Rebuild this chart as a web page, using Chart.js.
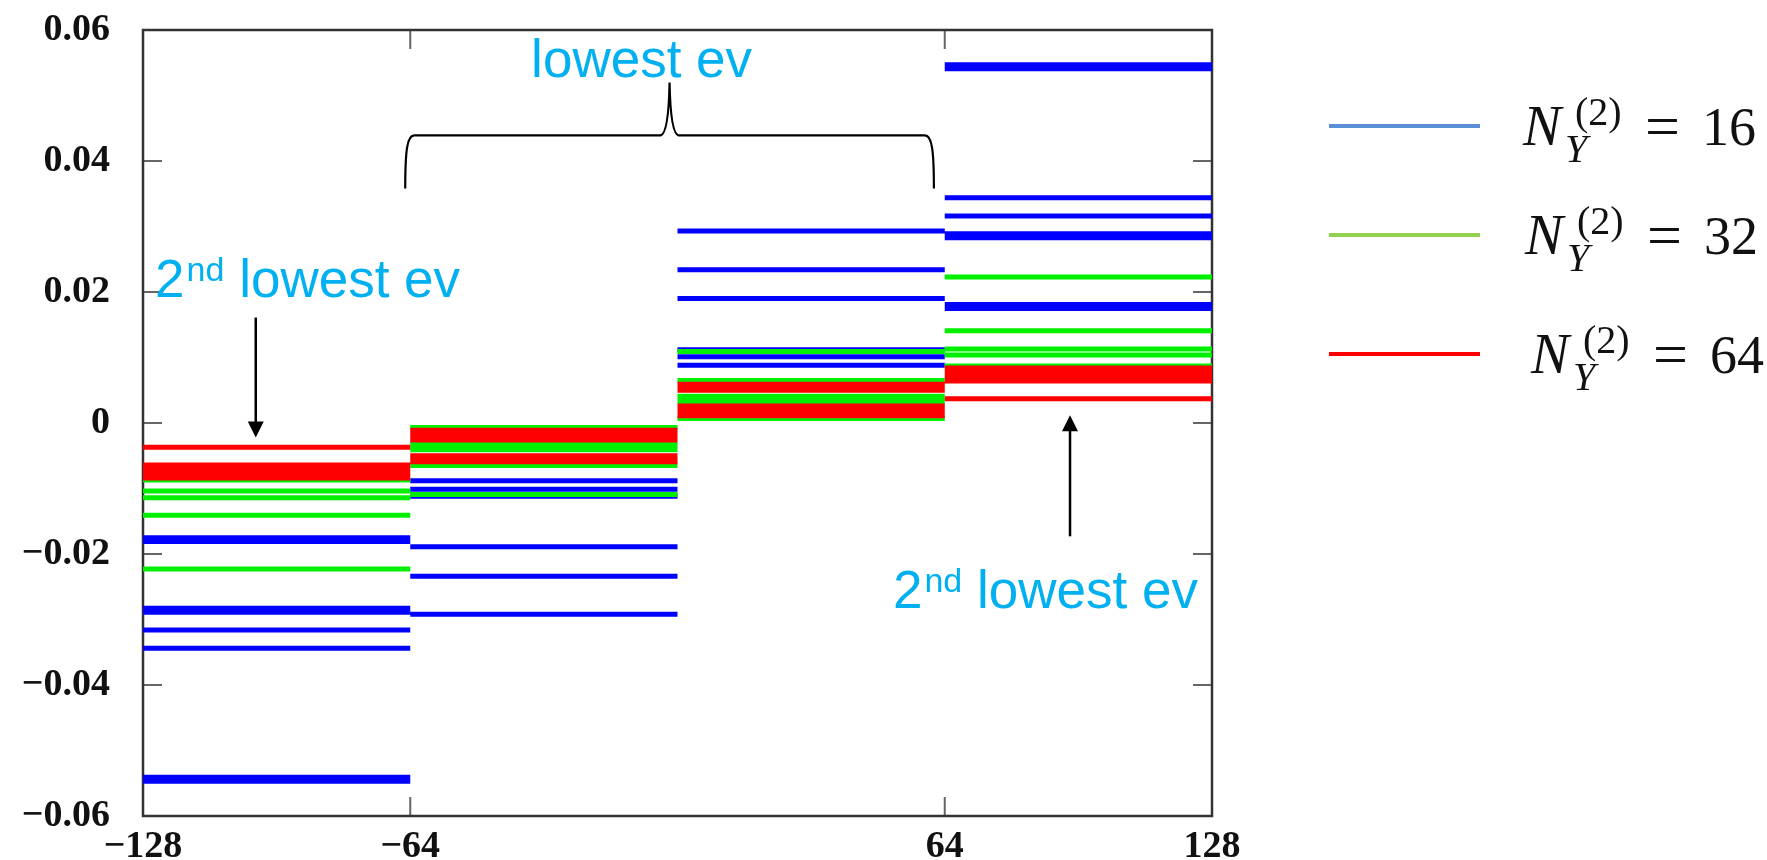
<!DOCTYPE html>
<html>
<head>
<meta charset="utf-8">
<script src="https://cdn.jsdelivr.net/npm/chart.js@4.4.1/dist/chart.umd.min.js"></script>
<style>
  html, body { margin: 0; padding: 0; background: #fff; }
  #wrap { width: 1767px; height: 860px; position: relative; }
</style>
</head>
<body>
<div id="wrap"><canvas id="grafico"></canvas></div>
<script>
// bordas dos blocos no eixo x
const blocos = [-128, -64, 0, 64, 128];
const xTicks = [-128, -64, 64, 128];
const yTicks = [-0.06, -0.04, -0.02, 0, 0.02, 0.04, 0.06];

// niveis, um array por bloco
const nivel16 = [
  [-0.0541, -0.0547, -0.0344, -0.0316, -0.0283, -0.0289, -0.0175, -0.0181],
  [-0.0088, -0.0101, -0.0112, -0.0189, -0.0234, -0.0292],
  [0.0293, 0.0234, 0.0190, 0.0112, 0.0101, 0.0088],
  [0.0541, 0.0547, 0.0344, 0.0316, 0.0283, 0.0289, 0.0175, 0.0181]
];
const nivel32 = [
  [-0.0087, -0.0104, -0.0114, -0.0141, -0.0223],
  [-0.0007, -0.0032, -0.0037, -0.0041, -0.0065, -0.0109],
  [0.0109, 0.0065, 0.0041, 0.0036, 0.0032, 0.0007],
  [0.0223, 0.0141, 0.0113, 0.0104, 0.0087]
];
const nivel64 = [
  [-0.0037, -0.0064, -0.0069, -0.0074, -0.0079, -0.0084],
  [-0.0011, -0.0016, -0.0021, -0.0026, -0.0050, -0.0055, -0.0059],
  [0.0011, 0.0016, 0.0021, 0.0026, 0.0050, 0.0055, 0.0059],
  [0.0037, 0.0064, 0.0069, 0.0074, 0.0079, 0.0084]
];

const legendaN = [16, 32, 64];

// onde a area do grafico tem que ficar (px)
const alvo = { left: 143, top: 30, right: 1212, bottom: 816 };

let chart;

// cada nivel vira um segmento horizontal em cima do bloco
function segmentos(niveis) {
  const pts = [];
  niveis.forEach((lista, b) => {
    lista.forEach(v => {
      pts.push({ x: blocos[b], y: v }, { x: blocos[b + 1], y: v }, { x: blocos[b + 1], y: null });
    });
  });
  return pts;
}

function fmtY(v) {
  if (Math.abs(v) < 1e-9) return '0';
  return (v < 0 ? '\u2212' : '') + Math.abs(v).toFixed(2);
}

function seta(ctx, x, y0, y1) {
  // y1 = ponta
  const dir = y1 > y0 ? 1 : -1;
  ctx.beginPath();
  ctx.moveTo(x, y0);
  ctx.lineTo(x, y1 - dir * 14);
  ctx.stroke();
  ctx.beginPath();
  ctx.moveTo(x, y1);
  ctx.lineTo(x - 8, y1 - dir * 16);
  ctx.lineTo(x + 8, y1 - dir * 16);
  ctx.closePath();
  ctx.fill();
}

function texto2nd(ctx, x, y) {
  ctx.font = '53px "Liberation Sans", Arial, sans-serif';
  ctx.fillText('2', x, y);
  let w = ctx.measureText('2').width + 2;
  ctx.font = '34px "Liberation Sans", Arial, sans-serif';
  ctx.fillText('nd', x + w, y - 16);
  w += ctx.measureText('nd').width;
  ctx.font = '53px "Liberation Sans", Arial, sans-serif';
  ctx.fillText(' lowest ev', x + w, y);
}

// sem padding extra dos rotulos, o tamanho fica fixo
function semPadding(s) {
  s.paddingTop = 0; s.paddingBottom = 0;
  s.paddingLeft = 0; s.paddingRight = 0;
}

const extras = {
  id: 'extras',
  beforeDatasetsDraw(c) {
    const ctx = c.ctx, a = c.chartArea;
    const sx = c.scales.x, sy = c.scales.y;
    ctx.save();
    // ticks pra dentro
    ctx.strokeStyle = '#666';
    ctx.lineWidth = 2;
    yTicks.forEach(v => {
      const y = sy.getPixelForValue(v);
      ctx.beginPath();
      ctx.moveTo(a.left, y); ctx.lineTo(a.left + 19, y);
      ctx.moveTo(a.right, y); ctx.lineTo(a.right - 19, y);
      ctx.stroke();
    });
    xTicks.forEach(v => {
      const x = sx.getPixelForValue(v);
      ctx.beginPath();
      ctx.moveTo(x, a.bottom); ctx.lineTo(x, a.bottom - 19);
      ctx.moveTo(x, a.top); ctx.lineTo(x, a.top + 19);
      ctx.stroke();
    });
    // moldura
    ctx.strokeStyle = '#333';
    ctx.lineWidth = 2.5;
    ctx.strokeRect(a.left, a.top, a.right - a.left, a.bottom - a.top);
    ctx.restore();
  },
  afterDraw(c) {
    const ctx = c.ctx;
    const sx = c.scales.x, sy = c.scales.y;
    const px = v => sx.getPixelForValue(v);
    const py = v => sy.getPixelForValue(v);
    ctx.save();

    // setas
    ctx.strokeStyle = '#000';
    ctx.fillStyle = '#000';
    ctx.lineWidth = 2.5;
    seta(ctx, px(-101), py(0.0161), py(-0.0022));
    seta(ctx, px(94), py(-0.0173), py(0.0012));

    // chave
    const xl = px(-65.2), xr = px(61.4), xm = px(-1.9);
    const yb = py(0.0358), yh = py(0.0439), yp = py(0.052);
    ctx.lineWidth = 2.2;
    ctx.beginPath();
    ctx.moveTo(xl, yb);
    ctx.bezierCurveTo(xl, yh + 14, xl + 2, yh, xl + 9, yh);
    ctx.lineTo(xm - 9, yh);
    ctx.quadraticCurveTo(xm - 1, yh - 2, xm, yp);
    ctx.quadraticCurveTo(xm + 1, yh - 2, xm + 9, yh);
    ctx.lineTo(xr - 9, yh);
    ctx.bezierCurveTo(xr - 2, yh, xr, yh + 14, xr, yb);
    ctx.stroke();

    // textos azuis
    ctx.fillStyle = '#00b0f0';
    ctx.textBaseline = 'alphabetic';
    ctx.textAlign = 'center';
    ctx.font = '53px "Liberation Sans", Arial, sans-serif';
    ctx.fillText('lowest ev', px(-8.6), py(0.0529));
    ctx.textAlign = 'left';
    texto2nd(ctx, px(-125.1), py(0.0192));
    texto2nd(ctx, px(51.6), py(-0.0283));

    // legenda
    const cores = ['#5b8fd5', '#92d050', '#ff0000'];
    const bases = [145, 254, 373];
    const xs = [1525, 1527, 1533];
    legendaN.forEach((n, i) => {
      const y = bases[i], x0 = xs[i];
      ctx.strokeStyle = cores[i];
      ctx.lineWidth = 4;
      ctx.beginPath();
      ctx.moveTo(1329, y - 19);
      ctx.lineTo(1480, y - 19);
      ctx.stroke();
      ctx.fillStyle = '#111';
      ctx.textAlign = 'left';
      ctx.font = 'italic 57px "Liberation Serif", serif';
      ctx.fillText('N', x0 - 2, y);
      ctx.font = 'italic 40px "Liberation Serif", serif';
      ctx.fillText('Y', x0 + 40, y + 17);
      ctx.font = '40px "Liberation Serif", serif';
      ctx.fillText('(2)', x0 + 50, y - 20);
      ctx.font = '62px "Liberation Serif", serif';
      ctx.fillText('=', x0 + 120, y + 2);
      ctx.font = '54px "Liberation Serif", serif';
      ctx.fillText(String(n), x0 + 177, y);
    });
    ctx.restore();
  }
};

function criarGrafico() {
  const ctx = document.getElementById('grafico').getContext('2d');
  const fonteEixo = { family: '"Liberation Serif", serif', size: 38, weight: 'bold' };

  chart = new Chart(ctx, {
    type: 'scatter',
    data: {
      datasets: [
        { label: 'N=16', data: segmentos(nivel16), borderColor: '#0000ff', order: 3 },
        { label: 'N=32', data: segmentos(nivel32), borderColor: '#00f000', order: 2 },
        { label: 'N=64', data: segmentos(nivel64), borderColor: '#ff0000', order: 1 }
      ].map(d => Object.assign(d, {
        showLine: true, spanGaps: false, pointRadius: 0, borderWidth: 5, backgroundColor: d.borderColor
      }))
    },
    options: {
      responsive: true,
      maintainAspectRatio: false,
      animation: false,
      layout: { autoPadding: false, padding: { left: 0, top: 30, right: 555, bottom: 0 } },
      plugins: {
        legend: { display: false },
        tooltip: { enabled: false }
      },
      scales: {
        x: {
          type: 'linear', min: -128, max: 128,
          afterBuildTicks: s => { s.ticks = xTicks.map(v => ({ value: v })); },
          afterFit: s => { s.height = 44; semPadding(s); },
          grid: { display: false, drawTicks: false },
          border: { display: false },
          ticks: {
            color: '#111', font: fonteEixo, padding: 8, maxRotation: 0, autoSkip: false,
            callback: v => v < 0 ? '\u2212' + Math.abs(v) : String(v)
          }
        },
        y: {
          type: 'linear', min: -0.06, max: 0.06,
          afterBuildTicks: s => { s.ticks = yTicks.map(v => ({ value: v })); },
          afterFit: s => { s.width = 143; semPadding(s); },
          grid: { display: false, drawTicks: false },
          border: { display: false },
          ticks: { color: '#111', font: fonteEixo, padding: 33, callback: fmtY }
        }
      }
    },
    plugins: [extras]
  });

  // acerta o padding pra area cair onde tem que cair
  for (let k = 0; k < 3; k++) {
    const a = chart.chartArea;
    const p = chart.config.options.layout.padding;
    const dt = alvo.top - a.top, db = a.bottom - alvo.bottom;
    const dl = alvo.left - a.left, dr = a.right - alvo.right;
    if (Math.abs(dt) < 0.5 && Math.abs(db) < 0.5 && Math.abs(dl) < 0.5 && Math.abs(dr) < 0.5) break;
    p.top += dt; p.bottom += db; p.left += dl; p.right += dr;
    chart.update();
  }
}

window.onload = function () {
  criarGrafico();
};
</script>
</body>
</html>
